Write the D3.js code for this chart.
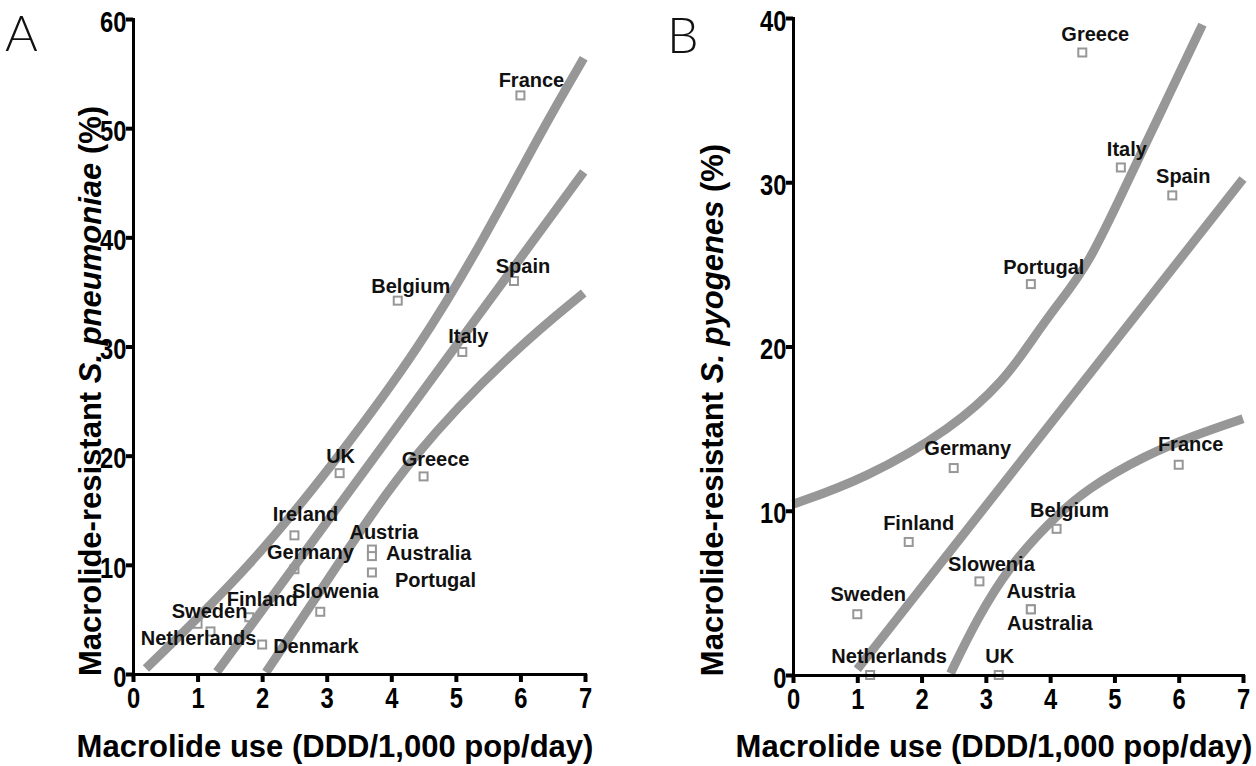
<!DOCTYPE html>
<html><head><meta charset="utf-8">
<script src="https://cdn.jsdelivr.net/npm/d3@7"></script>
<style>
body{margin:0;background:#fff}
svg{display:block}
.tick text{font-family:"Liberation Sans",Arial,sans-serif;font-weight:bold;font-size:29px;fill:#000}
.lab{font-family:"Liberation Sans",Arial,sans-serif;font-weight:bold;font-size:20px;fill:#111}
.ttl{font-family:"Liberation Sans",Arial,sans-serif;font-weight:bold;font-size:31px;fill:#000}
.pl{font-family:"Lato","Liberation Sans",sans-serif;font-weight:300;font-size:50px;fill:#111}
</style></head><body><svg id="c" width="1256" height="766"></svg>
<script>
// ---------- data ----------
const xTicks = [0,1,2,3,4,5,6,7];
const yTicksA = [0,10,20,30,40,50,60];
const yTicksB = [0,10,20,30,40];

const countriesA = ["France","Belgium","Spain","Italy","UK","Greece","Ireland","Austria","Australia","Portugal","Germany","Slowenia","Finland","Sweden","Netherlands","Denmark"];
const useA       = [6.0, 4.1, 5.9, 5.1, 3.2, 4.5, 2.5, 3.7, 3.7, 3.7, 2.5, 2.9, 1.8, 1.0, 1.2, 2.0];
const resistA    = [53.0,34.2,36.0,29.5,18.4,18.1,12.7,11.4,10.8,9.3, 9.6, 5.7, 5.2, 4.6, 3.9, 2.7];

const countriesB = ["Greece","Italy","Spain","Portugal","Germany","France","Belgium","Finland","Slowenia","Austria","Australia","Sweden","Netherlands","UK"];
const useB       = [4.5, 5.1, 5.9, 3.7, 2.5, 6.0, 4.1, 1.8, 2.9, 3.7, 3.7, 1.0, 1.2, 3.2];
const resistB    = [37.9,30.9,29.2,23.8,12.6,12.8,8.9, 8.1, 5.7, 4.0, 4.0, 3.7, 0.0, 0.0];

// regression line and confidence band
const upperA = [[0.2,0.5],[1.85,10],[3.2,20],[4.45,30],[5.45,40],[6.35,50],[6.98,56.4]];
const fitA   = [[1.3,0.2],[6.98,46.0]];
const lowerA = [[2.06,0.15],[3.17,10],[4.3,20],[5.9,29.7],[6.98,34.9]];

const upperB = [[0,10.4],[1.1,11.9],[2.48,15.0],[3.3,18.0],[3.7,20.3],[4.1,22.5],[4.59,24.9],[5.2,30],[5.75,34.5],[6.37,39.6]];
const fitB   = [[1.0,0.35],[7.0,30.2]];
const lowerB = [[2.45,0.1],[2.86,3.4],[3.36,6.6],[3.99,9.3],[4.55,11.3],[5.49,13.4],[6.25,14.6],[7.0,15.6]];

// ---------- layout (label offsets in px) ----------
const labA = {France:[11,-8,"middle"],Belgium:[13,-8,"middle"],Spain:[9,-8,"middle"],Italy:[6,-9,"middle"],UK:[1,-10,"middle"],
  Greece:[12,-10,"middle"],Ireland:[11,-14,"middle"],Austria:[12,-11,"middle"],Australia:[14,4,"start"],Portugal:[23,15,"start"],
  Germany:[16,-10,"middle"],Slowenia:[15,-14,"middle"],Finland:[13,-11,"middle"],Sweden:[12,-6,"middle"],Netherlands:[-12,14,"middle"],Denmark:[11,8,"start"]};
const labB = {Greece:[13,-11,"middle"],Italy:[6,-11,"middle"],Spain:[11,-12,"middle"],Portugal:[13,-10,"middle"],Germany:[14,-13,"middle"],
  France:[12,-14,"middle"],Belgium:[13,-12,"middle"],Finland:[10,-12,"middle"],Slowenia:[12,-10,"middle"],Austria:[10,-11,"middle"],
  Australia:[19,21,"middle"],Sweden:[11,-13,"middle"],Netherlands:[19,-12,"middle"],UK:[1,-12,"middle"]};

const svg = d3.select("#c");
const GRAY = "#979797";

function panel(cfg){
  const x = d3.scaleLinear().domain([0,7]).range([cfg.x0,cfg.x1]);
  const y = d3.scaleLinear().domain([0,cfg.ymax]).range([cfg.y0,cfg.y1]);
  const g = svg.append("g");

  const pts = cfg.names.map((n,i)=>({n, u:cfg.use[i], r:cfg.res[i]}));
  g.selectAll("rect.m").data(pts).join("rect").attr("class","m")
    .attr("x",d=>x(d.u)-4).attr("y",d=>y(d.r)-4).attr("width",8).attr("height",8)
    .attr("fill","#fff").attr("stroke",GRAY).attr("stroke-width",2);

  const line = d3.line().x(d=>x(d[0])).y(d=>y(d[1])).curve(d3.curveBasis);
  g.selectAll("path.fit").data(cfg.lines).join("path").attr("class","fit")
    .attr("d",line).attr("fill","none").attr("stroke",GRAY).attr("stroke-width",9);

  g.selectAll("text.lab").data(pts).join("text").attr("class","lab")
    .attr("x",d=>x(d.u)+cfg.lab[d.n][0]).attr("y",d=>y(d.r)+cfg.lab[d.n][1])
    .attr("text-anchor",d=>cfg.lab[d.n][2]).text(d=>d.n);

  const gx = svg.append("g").attr("transform",`translate(0,${cfg.y0})`)
    .call(d3.axisBottom(x).tickValues(xTicks).tickFormat(d3.format("d")).tickSize(8).tickSizeOuter(0).tickPadding(5));
  const gy = svg.append("g").attr("transform",`translate(${cfg.x0},0)`)
    .call(d3.axisLeft(y).tickValues(cfg.yTicks).tickFormat(d3.format("d")).tickSize(7).tickSizeOuter(0).tickPadding(1));
  [gx,gy].forEach(a=>{
    a.select(".domain").attr("stroke","#000").attr("stroke-width",3).attr("stroke-linecap","square");
    a.selectAll(".tick line").attr("stroke","#000").attr("stroke-width",4);
    a.selectAll(".tick text").attr("transform","scale(0.82,1)");
  });
  gy.selectAll(".tick text").attr("dy","0.42em");

  svg.append("text").attr("class","ttl").attr("text-anchor","middle")
    .attr("x",cfg.xtx).attr("y",757).text("Macrolide use (DDD/1,000 pop/day)");
  const yt = svg.append("text").attr("class","ttl").attr("text-anchor","middle")
    .attr("transform",`translate(${cfg.ytx},${cfg.yty}) rotate(-90)`);
  yt.append("tspan").text("Macrolide-resistant ");
  yt.append("tspan").attr("font-style","italic").text(cfg.species);
  yt.append("tspan").text(" (%)");

  svg.append("text").attr("class","pl").attr("x",cfg.plx).attr("y",cfg.ply).text(cfg.letter);
}

panel({x0:133,x1:585,y0:674,y1:19,ymax:60,yTicks:yTicksA,names:countriesA,use:useA,res:resistA,
  lines:[upperA,fitA,lowerA],lab:labA,xtx:335,ytx:101,yty:391,species:"S. pneumoniae",letter:"A",plx:5,ply:51});
panel({x0:793,x1:1243,y0:675,y1:18,ymax:40,yTicks:yTicksB,names:countriesB,use:useB,res:resistB,
  lines:[upperB,fitB,lowerB],lab:labB,xtx:994,ytx:723,yty:410,species:"S. pyogenes",letter:"B",plx:667,ply:53});
</script></body></html>
